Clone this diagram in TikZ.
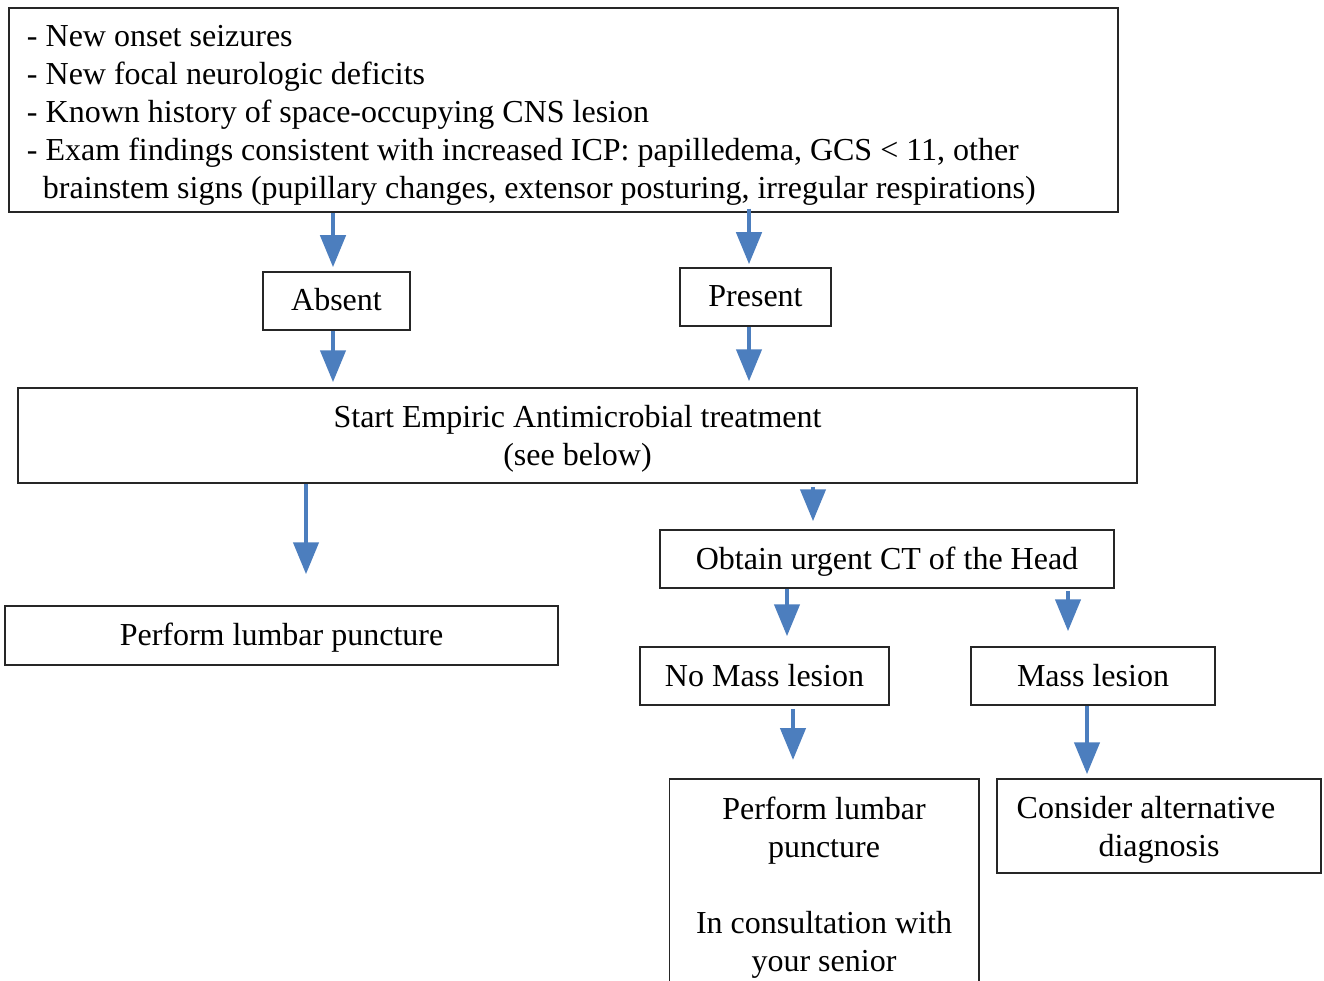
\documentclass[tikz,border=0pt]{standalone}
\usepackage{fontspec}
\setmainfont{Liberation Serif}
\usetikzlibrary{arrows.meta,calc}
\definecolor{arrblue}{RGB}{76,126,190}
\newcommand\fs{\fontsize{32}{38}\selectfont}
% struts fixing the height of a first line and the depth of a last line
\newcommand\firststrut[1][30pt]{\rule{0pt}{#1}}
\newcommand\laststrut[1][8pt]{\rule[-#1]{0pt}{#1}}
% vertical arrow at abscissa #1, from #2 (lowered by #3) to #4 (stopping #5 above it)
\newcommand\flowarrow[5]{\draw[arr] ($(#2 -| #1,0)+(0,#3)$) -- ($(#4 -| #1,0)+(0,-#5)$);}
\begin{document}
\begin{tikzpicture}[x=1pt,y=-1pt,
  box/.style={draw=black!85, line width=1.5pt, rectangle, inner sep=0pt, font=\fs, align=center},
  single/.style={box, text height=27pt, text depth=7pt},
  frame/.style={draw=black!85, line width=1.5pt},
  arr/.style={draw=arrblue, line width=4.5pt, -{Triangle[width=25pt,length=32pt,fill=arrblue]}}]
\useasboundingbox (0,0) rectangle (1324,981);

\node[box, minimum width=1109pt, minimum height=204pt, text width=1073pt, align=flush left] (top) at (563.5,110)
  {\firststrut[32pt]- New onset seizures\\
   - New focal neurologic deficits\\
   - Known history of space-occupying CNS lesion\\
   - Exam findings consistent with increased ICP: papilledema, GCS < 11, other\\
   \hspace*{16pt}brainstem signs (pupillary changes, extensor posturing, irregular respirations)\laststrut[7pt]};

\node[single, minimum width=147pt, minimum height=58pt] (absent) at (336.5,301) {Absent};
\node[single, minimum width=151pt, minimum height=58pt] (present) at (755.5,297) {Present};
\node[box, minimum width=1119pt, minimum height=95pt] (start) at (577.5,435.5)
  {\firststrut Start Empiric Antimicrobial treatment\\(see below)\laststrut};
\node[single, minimum width=553pt, minimum height=59pt] (lp) at (281.5,635.5) {Perform lumbar puncture};
\node[single, minimum width=454pt, minimum height=58pt] (ct) at (887,559) {Obtain urgent CT of the Head};
\node[single, minimum width=249pt, minimum height=58pt] (nomass) at (764.5,676) {No Mass lesion};
\node[single, minimum width=244pt, minimum height=58pt] (mass) at (1093,676) {Mass lesion};
\node[box, minimum width=324pt, minimum height=94pt] (consider) at (1159,826)
  {\firststrut Consider alternative\hspace*{26pt}\\diagnosis\laststrut};

% lower left box runs past the bottom edge: only three sides show
\node[box, draw=none, minimum width=308pt, inner ysep=9.5pt, anchor=north] (lpb) at (824,779)
  {\firststrut Perform lumbar\\puncture\\[38pt]In consultation with\\your senior\laststrut};
\draw[frame] (lpb.south west) -- (lpb.north west) -- (lpb.north east) -- (lpb.south east);

\flowarrow{333}{top.south}{0}{absent.north}{4}
\flowarrow{749}{top.south}{-4}{present.north}{3}
\flowarrow{333}{absent.south}{0}{start.north}{5}
\flowarrow{749}{present.south}{0}{start.north}{6}
\flowarrow{306}{start.south}{0}{lp.north}{31}
\flowarrow{813}{start.south}{3}{ct.north}{8}
\flowarrow{787}{ct.south}{0}{nomass.north}{10}
\flowarrow{1068}{ct.south}{2}{mass.north}{15}
\flowarrow{793}{nomass.south}{3}{lpb.north}{19}
\flowarrow{1087}{mass.south}{0}{consider.north}{4}
\end{tikzpicture}
\end{document}
